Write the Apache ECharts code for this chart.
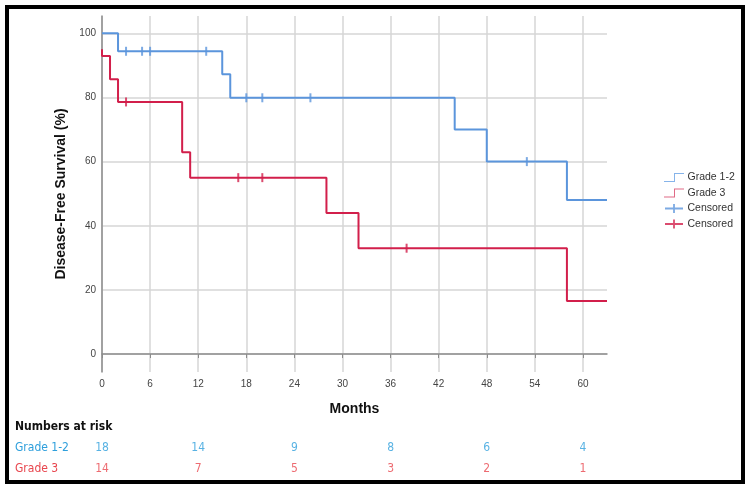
<!DOCTYPE html>
<html>
<head>
<meta charset="utf-8">
<script src="https://cdn.jsdelivr.net/npm/echarts@6/dist/echarts.min.js"></script>
<style>
html,body{margin:0;padding:0;background:#fff;}
#chart{width:751px;height:492px;}
</style>
</head>
<body>
<div id="chart"></div>
<script>
// ---- data ----
const monthTicks = [0, 6, 12, 18, 24, 30, 36, 42, 48, 54, 60];
const survivalTicks = [0, 20, 40, 60, 80, 100];

const grade12Times = [0, 2, 15, 16, 44, 48, 58, 63];
const grade12Surv  = [100, 94.4, 87.2, 79.9, 70, 60, 48, 48];
const grade12CensorTimes = [3, 5, 6, 13, 18, 20, 26, 53];
const grade12CensorSurv  = [94.4, 94.4, 94.4, 94.4, 79.9, 79.9, 79.9, 60];

const grade3Times = [0, 0, 1, 2, 10, 11, 28, 32, 58, 63];
const grade3Surv  = [95, 92.9, 85.7, 78.6, 62.9, 55, 44, 33, 16.5, 16.5];
const grade3CensorTimes = [3, 17, 20, 38];
const grade3CensorSurv  = [78.6, 55, 55, 33];

const riskMonths = [0, 12, 24, 36, 48, 60];
const riskGroups = ['Grade 3', 'Grade 1-2'];
const riskGrade12 = [18, 14, 9, 8, 6, 4];
const riskGrade3  = [14, 7, 5, 3, 2, 1];

// ---- styling ----
const BLUE = '#5b95dc';
const RED = '#d21f4b';
const RISK_BLUE = '#2e9fdc';
const RISK_RED = '#e8464e';

const pair = (xs, ys) => xs.map((x, i) => [x, ys[i]]);
const censorPath = 'path://M0,0 H2 V10 H0 Z';
const stepIcon = 'path://M0,9 H10 V1 H20 V2 H11 V10 H0 Z';
const plusIcon = 'path://M0,4 H20 V6 H0 Z M9,0 H11 V10 H9 Z';

const chart = echarts.init(document.getElementById('chart'), null, {renderer: 'canvas'});
const FONT = '"Liberation Sans", Arial, sans-serif';
const NARROW = '"Liberation Sans Narrow", "DejaVu Sans Condensed", "Liberation Sans", sans-serif';

const riskData = [];
riskMonths.forEach((m, i) => {
  riskData.push({value: [m, 'Grade 1-2'], label: {formatter: String(riskGrade12[i]), color: RISK_BLUE}});
  riskData.push({value: [m, 'Grade 3'], label: {formatter: String(riskGrade3[i]), color: RISK_RED}});
});

chart.setOption({
  animation: false,
  backgroundColor: '#fff',
  textStyle: {fontFamily: FONT},
  grid: [
    {left: 102, top: 16, width: 505, height: 356},
    {left: 102, top: 437, width: 505, height: 42}
  ],
  xAxis: [{
    gridIndex: 0, type: 'value', min: 0, max: 63,
    name: 'Months', nameLocation: 'middle', nameGap: 30,
    nameTextStyle: {fontSize: 14, fontWeight: 'bold', color: '#111', fontFamily: FONT},
    axisLine: {lineStyle: {color: '#8c8c8c', width: 1.5}},
    axisTick: {show: true, length: 4, lineStyle: {color: '#8c8c8c'}, customValues: monthTicks},
    axisLabel: {color: '#444', fontSize: 10, margin: 7, customValues: monthTicks},
    splitLine: {show: true, lineStyle: {color: '#d6d6d6', width: 1.5}}
  }, {
    gridIndex: 1, type: 'value', min: 0, max: 63, show: false
  }],
  yAxis: [{
    gridIndex: 0, type: 'value', min: -5.6, max: 105.4,
    name: 'Disease-Free Survival (%)', nameLocation: 'middle', nameGap: 28,
    nameTextStyle: {fontSize: 14, fontWeight: 'bold', color: '#111', fontFamily: FONT},
    axisLine: {show: true, lineStyle: {color: '#8c8c8c', width: 1.5}},
    axisTick: {show: false, customValues: survivalTicks},
    axisLabel: {color: '#444', fontSize: 10, margin: 6, customValues: survivalTicks},
    splitLine: {show: true, lineStyle: {color: '#d6d6d6', width: 1.5}}
  }, {
    gridIndex: 1, type: 'category', data: riskGroups,
    axisLine: {show: false}, axisTick: {show: false}, splitLine: {show: false},
    axisLabel: {
      show: true, align: 'left', margin: 87, fontSize: 12, fontFamily: NARROW,
      color: (v) => v === 'Grade 3' ? RISK_RED : RISK_BLUE
    }
  }],
  legend: {
    orient: 'vertical', left: 664, top: 172, padding: 0,
    itemWidth: 21, itemHeight: 9, itemGap: 4.5,
    textStyle: {fontSize: 10.5, color: '#333', fontFamily: FONT, padding: [0, 0, 0, -2]},
    formatter: (n) => n.indexOf('Censored') === 0 ? 'Censored' : n,
    data: [
      {name: 'Grade 1-2', icon: stepIcon, itemStyle: {color: '#86b4ea'}, lineStyle: {width: 0, opacity: 0}},
      {name: 'Grade 3', icon: stepIcon, itemStyle: {color: '#e06a86'}, lineStyle: {width: 0, opacity: 0}},
      {name: 'Censored1', icon: plusIcon, itemStyle: {color: BLUE}},
      {name: 'Censored2', icon: plusIcon, itemStyle: {color: RED}}
    ]
  },
  graphic: [
    {type: 'text', left: 15, top: 421, style: {text: 'Numbers at risk', font: '600 12px ' + NARROW, fill: '#111'}},
    {type: 'rect', shape: {x: 7, y: 7, width: 736, height: 475}, style: {fill: 'none', stroke: '#000', lineWidth: 4}, z: 100}
  ],
  series: [
    {name: 'Grade 1-2', type: 'line', step: 'end', xAxisIndex: 0, yAxisIndex: 0,
     data: pair(grade12Times, grade12Surv), showSymbol: false, symbol: 'none',
     lineStyle: {color: BLUE, width: 2}, itemStyle: {color: BLUE}, z: 3},
    {name: 'Grade 3', type: 'line', step: 'end', xAxisIndex: 0, yAxisIndex: 0,
     data: pair(grade3Times, grade3Surv), showSymbol: false, symbol: 'none',
     lineStyle: {color: RED, width: 2}, itemStyle: {color: RED}, z: 3},
    {name: 'Censored1', type: 'scatter', xAxisIndex: 0, yAxisIndex: 0,
     data: pair(grade12CensorTimes, grade12CensorSurv), symbol: censorPath, symbolSize: [2, 9],
     itemStyle: {color: BLUE}, z: 4},
    {name: 'Censored2', type: 'scatter', xAxisIndex: 0, yAxisIndex: 0,
     data: pair(grade3CensorTimes, grade3CensorSurv), symbol: censorPath, symbolSize: [2, 9],
     itemStyle: {color: RED}, z: 4},
    {name: 'risk', type: 'scatter', xAxisIndex: 1, yAxisIndex: 1, symbolSize: 0,
     data: riskData, silent: true,
     label: {show: true, position: 'inside', fontSize: 12, fontFamily: NARROW}}
  ]
});
</script>
</body>
</html>
